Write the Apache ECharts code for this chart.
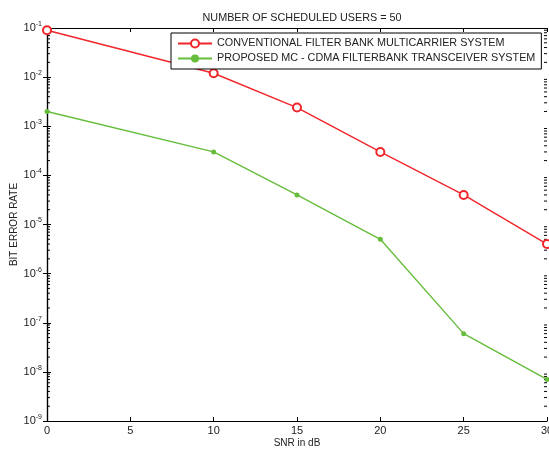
<!DOCTYPE html>
<html>
<head>
<meta charset="utf-8">
<script src="https://cdn.jsdelivr.net/npm/echarts@6/dist/echarts.min.js"></script>
<style>
  html, body { margin: 0; padding: 0; background: #fff; }
  #main { width: 549px; height: 450px; }
</style>
</head>
<body>
<div id="main"></div>
<script>
var snr = [0, 10, 15, 20, 25, 30];
var conventional = [0.09, 0.012, 0.0024, 0.0003, 0.00004, 0.000004];
var proposed = [0.002, 0.0003, 0.00004, 0.000005, 0.00000006, 0.000000007];
var xTicks = [0, 5, 10, 15, 20, 25, 30];
var decades = [-9, -8, -7, -6, -5, -4, -3, -2];
var mantissas = [2, 3, 4, 5, 6, 7, 8, 9];

function pairs(xs, ys) {
  var out = [];
  for (var i = 0; i < xs.length; i++) out.push([xs[i], ys[i]]);
  return out;
}

// log minor tick values between decades
var minorVals = [];
decades.forEach(function (e) {
  mantissas.forEach(function (m) { minorVals.push([0, m * Math.pow(10, e)]); });
});

var font = 'Liberation Sans, Arial, sans-serif';
var myChart = echarts.init(document.getElementById('main'));

var option = {
  animation: false,
  backgroundColor: '#fff',
  title: {
    text: 'NUMBER OF SCHEDULED USERS = 50',
    left: 297, top: 8, textAlign: 'center',
    textStyle: { fontSize: 10.8, fontWeight: 'normal', color: '#222', fontFamily: font }
  },
  legend: {
    left: 171, top: 33, orient: 'vertical',
    padding: [5, 6, 5, 6], itemGap: 4,
    itemWidth: 34, itemHeight: 10,
    borderColor: '#000', borderWidth: 1, backgroundColor: '#fff',
    textStyle: { fontSize: 10.8, color: '#222', fontFamily: font },
    data: ['CONVENTIONAL FILTER BANK MULTICARRIER SYSTEM', 'PROPOSED MC - CDMA FILTERBANK TRANSCEIVER SYSTEM']
  },
  grid: { left: 47, right: 2, top: 28, bottom: 29, outerBoundsMode: 'none', containLabel: false },
  xAxis: [{
    type: 'value', min: 0, max: 30, interval: 5,
    name: 'SNR in dB', nameLocation: 'middle', nameGap: 17, nameMoveOverlap: false,
    nameTextStyle: { fontSize: 10, color: '#222', fontFamily: font },
    axisLine: { lineStyle: { color: '#000', width: 1.2 } },
    axisTick: { inside: true, length: 4, lineStyle: { color: '#000' } },
    axisLabel: { fontSize: 11, color: '#222', fontFamily: font, margin: 4,
      formatter: function (v) { return xTicks.indexOf(v) >= 0 ? String(v) : ''; } },
    splitLine: { show: false }
  }, {
    type: 'value', min: 0, max: 30, interval: 5, position: 'top',
    axisLine: { lineStyle: { color: '#000', width: 1.2 } },
    axisTick: { inside: true, length: 4, lineStyle: { color: '#000' } },
    axisLabel: { show: false },
    splitLine: { show: false }
  }],
  yAxis: [{
    type: 'log', logBase: 10, min: 1e-9, max: 1e-1, splitNumber: 8,
    name: 'BIT ERROR RATE', nameLocation: 'middle', nameGap: 28, nameMoveOverlap: false,
    nameTextStyle: { fontSize: 10, color: '#222', fontFamily: font },
    axisLine: { lineStyle: { color: '#000', width: 1.2 } },
    axisTick: { inside: true, length: 4, lineStyle: { color: '#000' } },
    axisLabel: {
      fontFamily: font, color: '#222', margin: 5,
      formatter: function (v) {
        var e = Math.round(Math.log(v) / Math.LN10);
        return '{b|10}{s|' + e + '}';
      },
      rich: {
        b: { fontSize: 11, color: '#222', fontFamily: font },
        s: { fontSize: 7, color: '#222', fontFamily: font, verticalAlign: 'top', padding: [0, 0, 8, 0] }
      }
    },
    splitLine: { show: false }
  }, {
    type: 'log', logBase: 10, min: 1e-9, max: 1e-1, splitNumber: 8, position: 'right',
    axisLine: { lineStyle: { color: '#000', width: 1.2 } },
    axisTick: { inside: true, length: 4, lineStyle: { color: '#000' } },
    axisLabel: { show: false },
    splitLine: { show: false }
  }],
  series: [{
    name: 'minor',
    type: 'custom',
    silent: true,
    data: minorVals,
    renderItem: function (params, api) {
      var v = api.value(1);
      var l = api.coord([0, v]);
      var r = api.coord([30, v]);
      return {
        type: 'group',
        children: [
          { type: 'line', shape: { x1: l[0], y1: l[1], x2: l[0] + 3, y2: l[1] }, style: { stroke: '#000', lineWidth: 1 } },
          { type: 'line', shape: { x1: r[0], y1: r[1], x2: r[0] - 3, y2: r[1] }, style: { stroke: '#000', lineWidth: 1 } }
        ]
      };
    }
  }, {
    name: 'CONVENTIONAL FILTER BANK MULTICARRIER SYSTEM',
    type: 'line',
    data: pairs(snr, conventional),
    symbol: 'emptyCircle', symbolSize: 8,
    lineStyle: { color: '#f0262b', width: 1.4 },
    itemStyle: { color: '#f0262b', borderColor: '#f0262b', borderWidth: 1.4 }
  }, {
    name: 'PROPOSED MC - CDMA FILTERBANK TRANSCEIVER SYSTEM',
    type: 'line',
    data: pairs(snr, proposed),
    symbol: 'circle', symbolSize: 5,
    lineStyle: { color: '#66bd3c', width: 1.4 },
    itemStyle: { color: '#66bd3c' }
  }]
};
myChart.setOption(option);
</script>
</body>
</html>
